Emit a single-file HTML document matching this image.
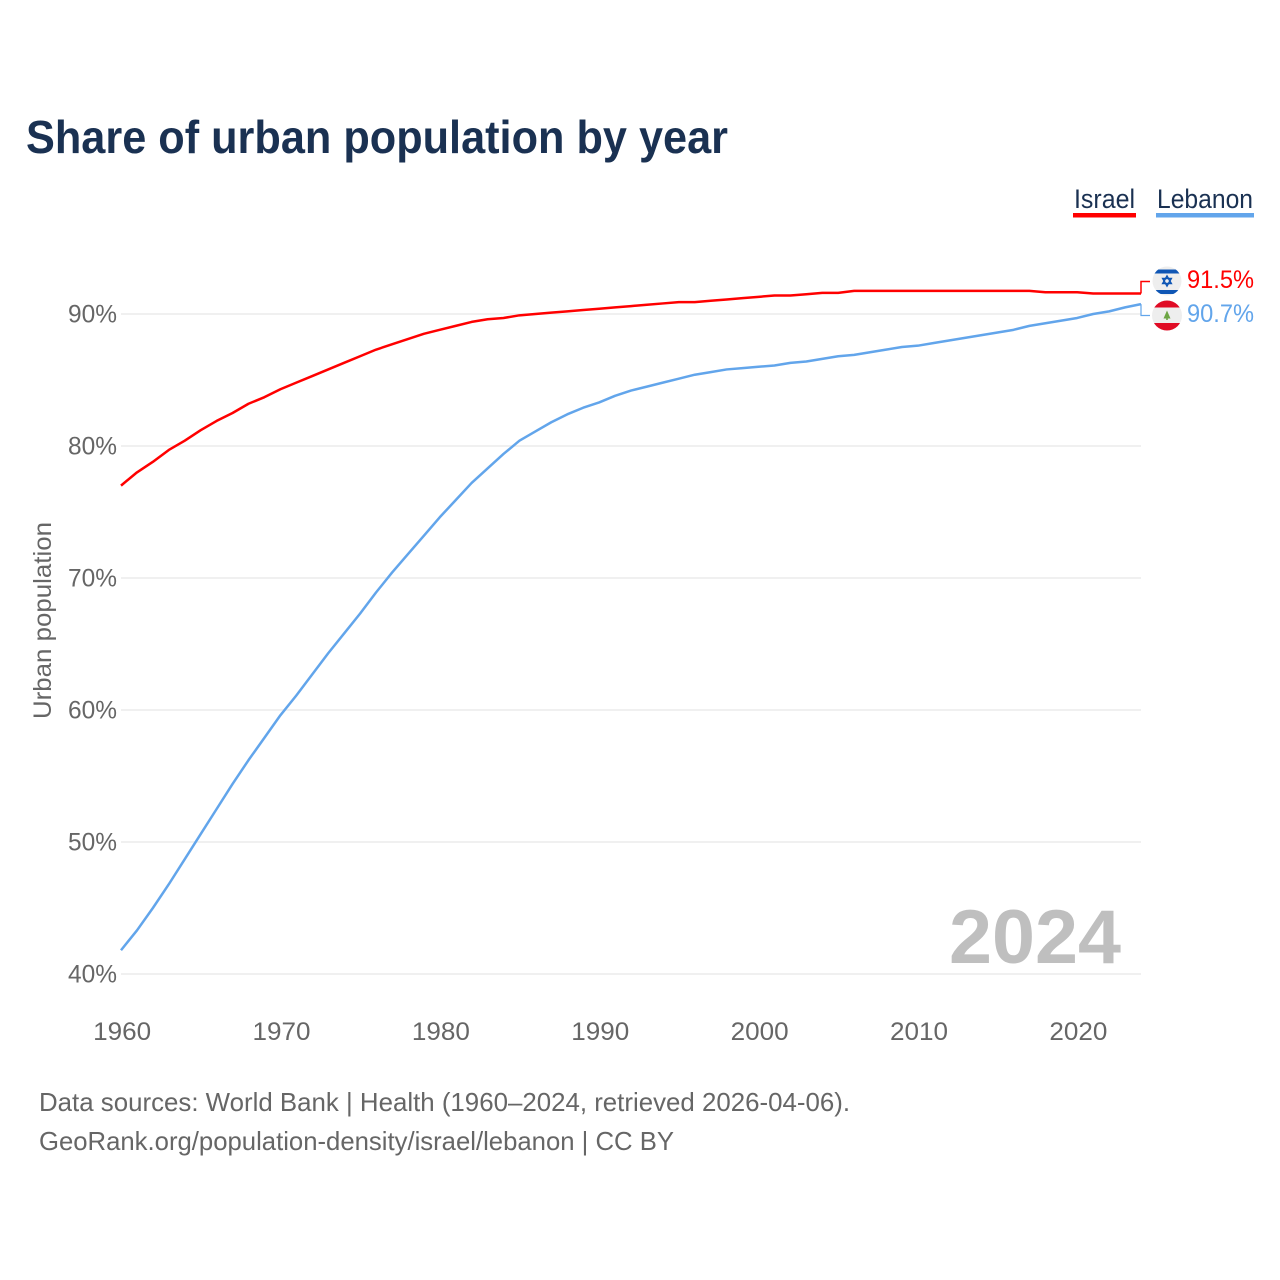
<!DOCTYPE html>
<html lang="en">
<head>
<meta charset="utf-8">
<title>Share of urban population by year</title>
<style>
html,body{margin:0;padding:0;background:#fff;width:1280px;height:1280px;overflow:hidden}
svg{display:block}
text{font-family:"Liberation Sans",sans-serif}
</style>
</head>
<body>
<svg id="chart" width="1280" height="1280" viewBox="0 0 1280 1280" xmlns="http://www.w3.org/2000/svg">
  <rect width="1280" height="1280" fill="#ffffff"/>
  <text x="26" y="153" font-size="46" font-weight="700" fill="#1a3152" textLength="702" lengthAdjust="spacingAndGlyphs">Share of urban population by year</text>

  <g>
    <g>
      <text x="1074" y="208" font-size="27" fill="#1a3152" textLength="61" lengthAdjust="spacingAndGlyphs">Israel</text>
      <rect x="1073" y="213" width="63" height="4.5" fill="#ff0000"/>
    </g>
    <g>
      <text x="1157" y="208" font-size="27" fill="#1a3152" textLength="96" lengthAdjust="spacingAndGlyphs">Lebanon</text>
      <rect x="1156" y="213" width="98" height="4.5" fill="#62a5eb"/>
    </g>
  </g>

  <g id="grid"></g>
  <g id="yticks"></g>
  <g id="xticks"></g>
  <text transform="translate(51,620.5) rotate(-90)" text-anchor="middle" font-size="25" fill="#666666" textLength="197" lengthAdjust="spacingAndGlyphs">Urban population</text>

  <text x="949" y="963" font-size="76" font-weight="700" fill="#bfbfbf" textLength="172" lengthAdjust="spacingAndGlyphs">2024</text>

  <g id="series"></g>

  <g>
    <clipPath id="clip-il"><circle cx="1167" cy="281" r="14.5"/></clipPath>
    <g clip-path="url(#clip-il)">
      <rect x="1152" y="266" width="30" height="30" fill="#eeeeee"/>
      <rect x="1152" y="269.5" width="30" height="4" fill="#0f56b5"/>
      <rect x="1152" y="290" width="30" height="4" fill="#0f56b5"/>
      <polygon points="1167,276 1171.3,283.5 1162.7,283.5" fill="none" stroke="#0f56b5" stroke-width="1.5"/>
      <polygon points="1167,286 1171.3,278.5 1162.7,278.5" fill="none" stroke="#0f56b5" stroke-width="1.5"/>
    </g>
  </g>
  <g>
    <clipPath id="clip-lb"><circle cx="1167" cy="315.5" r="15"/></clipPath>
    <g clip-path="url(#clip-lb)">
      <rect x="1151" y="300" width="32" height="31" fill="#eeeeee"/>
      <rect x="1151" y="300" width="32" height="7.5" fill="#e00b25"/>
      <rect x="1151" y="323" width="32" height="8" fill="#e00b25"/>
      <polygon points="1167,310.5 1170.5,318.5 1163.5,318.5" fill="#6da544"/>
      <rect x="1166.2" y="318" width="1.6" height="2" fill="#6da544"/>
    </g>
  </g>

  <text x="1187" y="288" font-size="25" fill="#ff0000" textLength="67" lengthAdjust="spacingAndGlyphs">91.5%</text>
  <text x="1187" y="322" font-size="25" fill="#62a5eb" textLength="67" lengthAdjust="spacingAndGlyphs">90.7%</text>

  <text x="39" y="1111" font-size="26" fill="#666666" textLength="811" lengthAdjust="spacingAndGlyphs">Data sources: World Bank | Health (1960–2024, retrieved 2026-04-06).</text>
  <text x="39" y="1150" font-size="26" fill="#666666" textLength="635" lengthAdjust="spacingAndGlyphs">GeoRank.org/population-density/israel/lebanon | CC BY</text>
</svg>
<script>
const startYear = 1960;
const israelValues = [77.0,78.0,78.8,79.7,80.4,81.2,81.9,82.5,83.2,83.7,84.3,84.8,85.3,85.8,86.3,86.8,87.3,87.7,88.1,88.5,88.8,89.1,89.4,89.6,89.7,89.9,90.0,90.1,90.2,90.3,90.4,90.5,90.6,90.7,90.8,90.9,90.9,91.0,91.1,91.2,91.3,91.4,91.4,91.5,91.6,91.6,91.75,91.75,91.75,91.75,91.75,91.75,91.75,91.75,91.75,91.75,91.75,91.75,91.65,91.65,91.65,91.55,91.55,91.55,91.55];
const lebanonValues = [41.8,43.3,45.0,46.8,48.7,50.6,52.5,54.4,56.2,57.9,59.6,61.1,62.7,64.3,65.8,67.3,68.9,70.4,71.8,73.2,74.6,75.9,77.2,78.3,79.4,80.4,81.1,81.8,82.4,82.9,83.3,83.8,84.2,84.5,84.8,85.1,85.4,85.6,85.8,85.9,86.0,86.1,86.3,86.4,86.6,86.8,86.9,87.1,87.3,87.5,87.6,87.8,88.0,88.2,88.4,88.6,88.8,89.1,89.3,89.5,89.7,90.0,90.2,90.5,90.75];
const yTicks = [40,50,60,70,80,90];
const xTicks = [1960,1970,1980,1990,2000,2010,2020];

const NS = 'http://www.w3.org/2000/svg';
const xScale = year => 121 + (year - 1960) * (1020 / 64);
const yScale = value => 974 - (value - 40) * 13.2;
const make = (tag, attrs, parent) => {
  const el = document.createElementNS(NS, tag);
  for (const k in attrs) el.setAttribute(k, attrs[k]);
  parent.appendChild(el);
  return el;
};

const grid = document.getElementById('grid');
const yG = document.getElementById('yticks');
const xG = document.getElementById('xticks');
const seriesG = document.getElementById('series');

yTicks.forEach(t => {
  const line = make('line', {x1: 121, x2: 1141, y1: yScale(t), y2: yScale(t), stroke: '#ececec', 'stroke-width': 1.5}, grid);
  
  
  const label = make('text', {x: 117, y: yScale(t) + 8.5, 'text-anchor': 'end', 'font-size': 25, fill: '#666666', textLength: 49, lengthAdjust: 'spacingAndGlyphs'}, yG);
  label.textContent = t + '%';
  
  
});

xTicks.forEach(t => {
  const label = make('text', {x: xScale(t) + 1.2, y: 1040, 'text-anchor': 'middle', 'font-size': 25, fill: '#666666', textLength: 58, lengthAdjust: 'spacingAndGlyphs'}, xG);
  label.textContent = t;
  
  
});

const linePath = values => values.map((v, i) => (i ? 'L' : 'M') + xScale(startYear + i).toFixed(2) + ' ' + yScale(v).toFixed(2)).join(' ');
const lastPoint = values => [xScale(startYear + values.length - 1), yScale(values[values.length - 1])];

const israelLine = make('path', {d: linePath(israelValues), fill: 'none', stroke: '#ff0000', 'stroke-width': 2.5, 'stroke-linejoin': 'round'}, seriesG);



const lebanonLine = make('path', {d: linePath(lebanonValues), fill: 'none', stroke: '#62a5eb', 'stroke-width': 2.5, 'stroke-linejoin': 'round'}, seriesG);



const [ilX, ilY] = lastPoint(israelValues);
const israelConnector = make('path', {d: `M${ilX} ${ilY} V281.5 H1150`, fill: 'none', stroke: '#ff0000', 'stroke-width': 1.5}, seriesG);



const [lbX, lbY] = lastPoint(lebanonValues);
const lebanonConnector = make('path', {d: `M${lbX} ${lbY} V315.5 H1150`, fill: 'none', stroke: '#62a5eb', 'stroke-width': 1.2}, seriesG);


</script>
</body>
</html>
